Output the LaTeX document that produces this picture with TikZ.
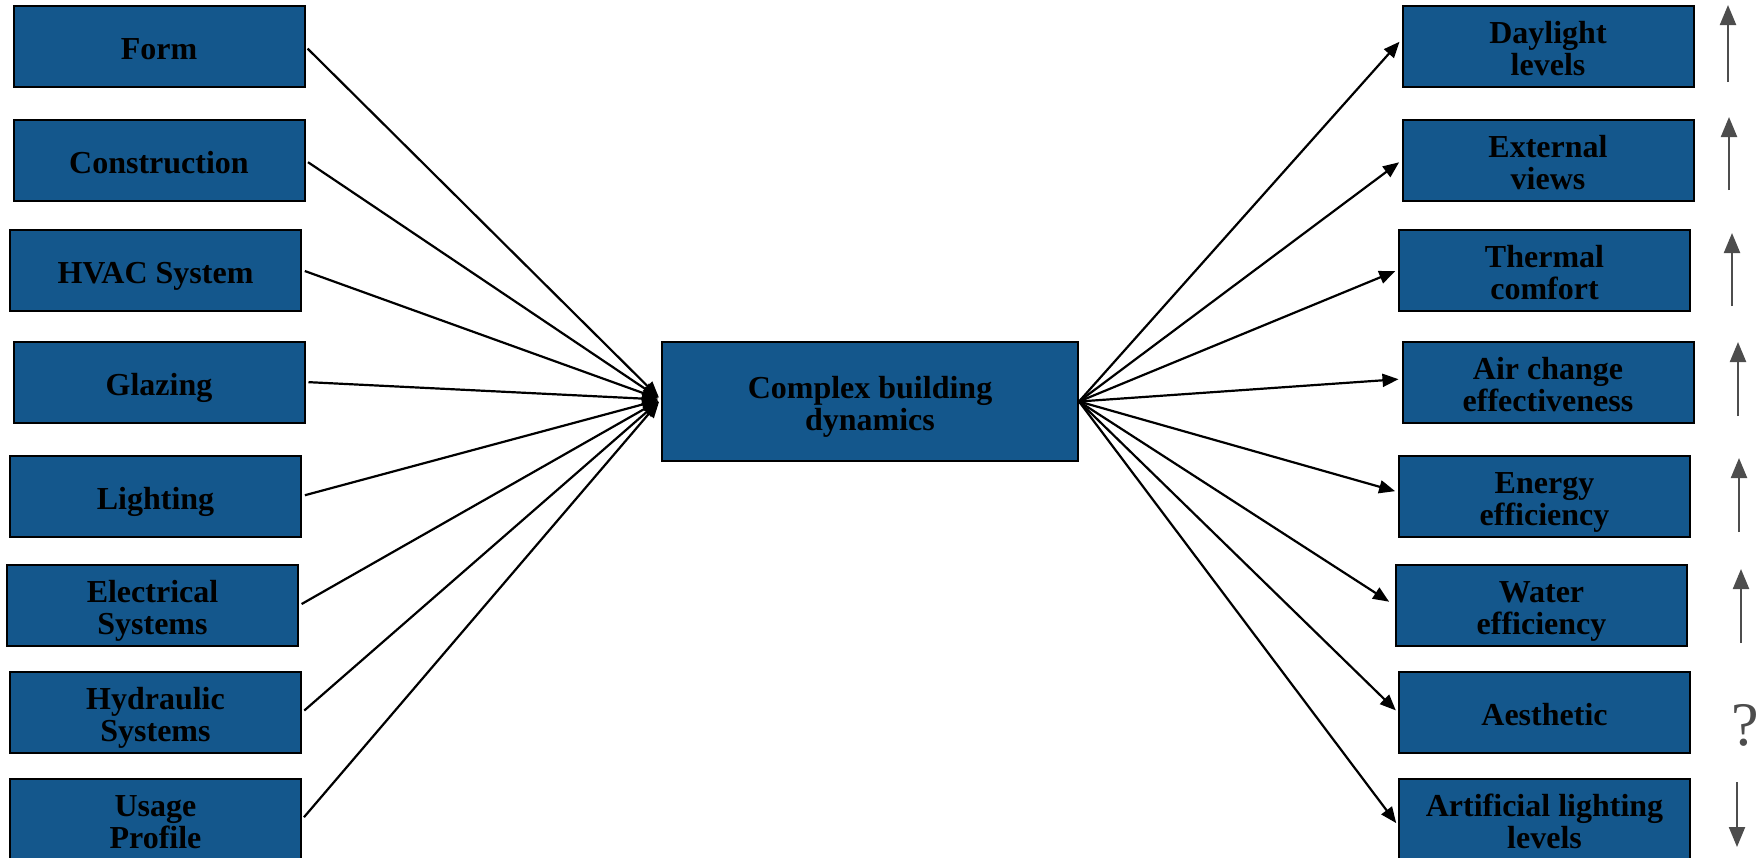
\documentclass[tikz,border=0pt]{standalone}
\usepackage{fontspec}
\setmainfont{Liberation Serif}
\usetikzlibrary{arrows.meta}
\definecolor{boxblue}{RGB}{20,87,140}
\definecolor{indgray}{RGB}{77,77,77}
\newcommand\fstrut{\rule{0pt}{34.5pt}}
\newcommand\lstrut{\rule[-8pt]{0pt}{8pt}}
\begin{document}
\begin{tikzpicture}[x=1pt,y=-1pt,
  box/.style={draw=black,line width=2pt,fill=boxblue,minimum width=291pt,minimum height=81pt,
    inner sep=0pt,align=center,font=\fontsize{32}{32}\selectfont\bfseries,text=black},
  conn/.style={line width=2.2pt,draw=black,-{Triangle[length=16pt,width=13pt]}},
  ind/.style={line width=2.2pt,draw=indgray,-{Triangle[length=20pt,width=16pt]},color=indgray}]
\useasboundingbox (0,0) rectangle (1762,857);
\clip (0,0) rectangle (1762,857);
% left boxes
\node[box] (L1) at (159,46.5) {\fstrut Form\lstrut};
\node[box] (L2) at (159,160.5) {\fstrut Construction\lstrut};
\node[box] (L3) at (155.5,270) {\fstrut HVAC System\lstrut};
\node[box] (L4) at (159,382) {\fstrut Glazing\lstrut};
\node[box] (L5) at (155.5,496) {\fstrut Lighting\lstrut};
\node[box] (L6) at (152.5,605.5) {\fstrut Electrical\\Systems\lstrut};
\node[box] (L7) at (155.5,712.5) {\fstrut Hydraulic\\Systems\lstrut};
\node[box] (L8) at (155.5,819.5) {\fstrut Usage\\Profile\lstrut};
% center
\node[box,minimum width=416pt,minimum height=119pt] (C) at (870,401.5) {\fstrut Complex building\\dynamics\lstrut};
% right boxes
\node[box] (R1) at (1548,46.5) {\fstrut Daylight\\levels\lstrut};
\node[box] (R2) at (1548,160.5) {\fstrut External\\views\lstrut};
\node[box] (R3) at (1544.5,270) {\fstrut Thermal\\comfort\lstrut};
\node[box] (R4) at (1548,382) {\fstrut Air change\\effectiveness\lstrut};
\node[box] (R5) at (1544.5,496) {\fstrut Energy\\efficiency\lstrut};
\node[box] (R6) at (1541.5,605.5) {\fstrut Water\\efficiency\lstrut};
\node[box] (R7) at (1544.5,712.5) {\fstrut Aesthetic\lstrut};
\node[box] (R8) at (1544.5,819.5) {\fstrut Artificial lighting\\levels\lstrut};
% left connectors
\foreach \i in {1,...,8}{
  \draw[conn,shorten <=3pt,shorten >=3pt] (L\i.east) -- ([yshift=2pt]C.west);
}
% right connectors
\draw[conn,shorten >=3pt] (C.east) -- ([yshift=7pt]R1.west);
\draw[conn,shorten >=3pt] (C.east) -- (R2.west);
\draw[conn,shorten >=3pt] (C.east) -- (R3.west);
\draw[conn,shorten >=3pt] (C.east) -- ([yshift=3pt]R4.west);
\draw[conn,shorten >=3pt] (C.east) -- ([yshift=4pt]R5.west);
\draw[conn,shorten >=7pt] (C.east) -- (R6.west);
\draw[conn,shorten >=3pt] (C.east) -- (R7.west);
\draw[conn,shorten >=3pt] (C.east) -- ([yshift=-6pt]R8.west);
% indicators
\draw[ind] (1728,82) -- (1728,5);
\draw[ind] (1729,190) -- (1729,117);
\draw[ind] (1732,306) -- (1732,233);
\draw[ind] (1738,416) -- (1738,342);
\draw[ind] (1739,532) -- (1739,458);
\draw[ind] (1741,643) -- (1741,569);
\node[text=indgray,font=\fontsize{62}{62}\selectfont,inner sep=0pt] (Q) at (1745,725) {?};
\draw[ind] (1737,782) -- (1737,847);
\end{tikzpicture}
\end{document}
